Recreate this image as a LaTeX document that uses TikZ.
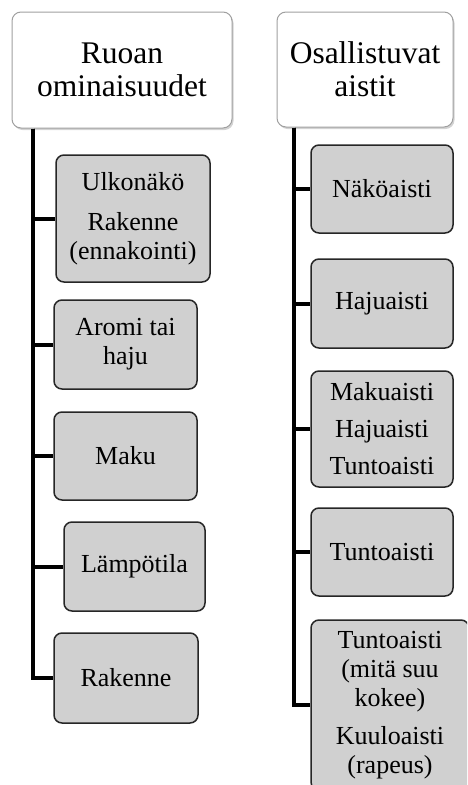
\documentclass[tikz,border=0pt]{standalone}
\usepackage{fontspec}
\setmainfont{Liberation Serif}
\usetikzlibrary{shadows}
\definecolor{boxgray}{RGB}{208,208,208}
\definecolor{edgegray}{RGB}{160,160,160}
\begin{document}
\begin{tikzpicture}[x=1pt,y=-1pt,
  hdr/.style={draw=edgegray,line width=1pt,fill=white,rounded corners=9pt,align=center,inner sep=0pt,
    font=\fontsize{31.5}{33}\selectfont,drop shadow={opacity=.35,shadow xshift=1.5pt,shadow yshift=-2pt}},
  leaf/.style={draw=black!85,line width=1.5pt,fill=boxgray,rounded corners=8pt,align=center,inner sep=0pt,
    font=\fontsize{26}{29}\selectfont},
  link/.style={line width=4pt}]
\useasboundingbox (0,0) rectangle (467,785);
\clip (0,0) rectangle (467,785);
\coordinate (spineL) at (33,0);
\coordinate (spineR) at (294,0);
% left column
\node[hdr,minimum width=220pt,minimum height=116pt] (ruoka) at (122,70) {Ruoan\\ominaisuudet};
\node[leaf,minimum width=154pt,minimum height=127pt] (ulko) at (133,218.5) {Ulkonäkö\\[11pt]Rakenne\\(ennakointi)};
\node[leaf,minimum width=143pt,minimum height=89pt] (aromi) at (125.5,344.5) {Aromi tai\\haju};
\node[leaf,minimum width=143pt,minimum height=88pt] (maku) at (125.5,456) {Maku};
\node[leaf,minimum width=141pt,minimum height=89pt] (lampo) at (134.5,566.5) {Lämpötila};
\node[leaf,minimum width=144pt,minimum height=90pt] (rakenne) at (126,678) {Rakenne};
% right column
\node[hdr,minimum width=176pt,minimum height=115pt] (aistit) at (365,69.5) {Osallistuvat\\aistit};
\node[leaf,minimum width=142pt,minimum height=88pt] (nako) at (382,189) {Näköaisti};
\node[leaf,minimum width=142pt,minimum height=89pt] (haju) at (382,303.5) {Hajuaisti};
\node[leaf,minimum width=142pt,minimum height=116pt] (makuaisti) at (382,429) {Makuaisti\\[8pt]Hajuaisti\\[8pt]Tuntoaisti};
\node[leaf,minimum width=142pt,minimum height=88pt] (tunto) at (382,552) {Tuntoaisti};
\node[leaf,minimum width=158pt,minimum height=170pt] (kuulo) at (390,705) {Tuntoaisti\\(mitä suu\\kokee)\\[9pt]Kuuloaisti\\(rapeus)};
% connectors
\foreach \c in {ulko,aromi,maku,lampo,rakenne}
  \draw[link] (ruoka.south -| spineL) |- (\c.west);
\foreach \c in {nako,haju,makuaisti,tunto,kuulo}
  \draw[link] (aistit.south -| spineR) |- (\c.west);
\end{tikzpicture}
\end{document}
